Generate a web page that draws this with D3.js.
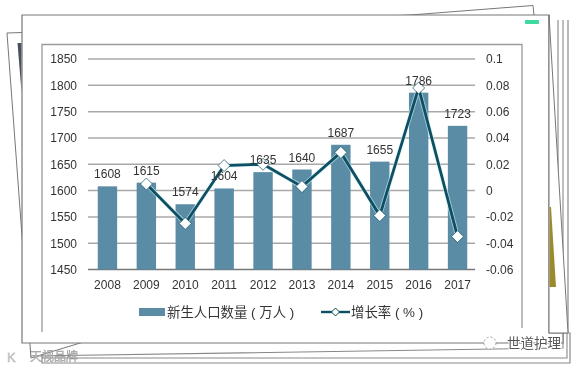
<!DOCTYPE html>
<html><head><meta charset="utf-8">
<script src="https://cdn.jsdelivr.net/npm/d3@7"></script>
<style>html,body{margin:0;padding:0;background:#fff}svg{display:block;filter:blur(.35px)}
text{font-family:"Liberation Sans","Noto Sans CJK SC",sans-serif;fill:#333}</style>
</head><body><div id="c"></div>
<script>
const years=["2008","2009","2010","2011","2012","2013","2014","2015","2016","2017"];
const births=[1608,1615,1574,1604,1635,1640,1687,1655,1786,1723];
const growth=[null,0.005,-0.025,0.019,0.02,0.003,0.029,-0.019,0.078,-0.035];
const leftTicks=[1450,1500,1550,1600,1650,1700,1750,1800,1850];
const rightTicks=[-0.06,-0.04,-0.02,0,0.02,0.04,0.06,0.08,0.1];
const legendNames=["新生人口数量 ( 万人 )","增长率 ( % )"];
const barColor="#5b8ca6",lineColor="#0d4f63",gridColor="#a8a8a8";

const svg=d3.select("#c").append("svg").attr("width",580).attr("height",369);
const line2=d3.line();
function poly(pts,stroke,fill,w,open){svg.append("path").attr("d",line2(pts)+(open?"":"Z")).attr("fill",fill||"none").attr("stroke",stroke||"#777").attr("stroke-width",w||1);}

// paper stack behind the chart
poly([[568,20],[568,333],[570,333],[570,363],[42,363],[42,343]],"#8a8a8a","#fff",1.2,true);
poly([[563,20],[563,333],[567,333],[567,358],[42,358]],"#8a8a8a","none",1.1,true);
poly([[558,20],[558,333],[563,333],[563,348],[31,356],[31,343]],"#888","none",1.1,true);
poly([[7,33],[22,32.5],[410,15],[533,5.5],[534,15],[549,200],[31,358]],"#777","#fff",1);
svg.append("path").attr("d",line2([[17.5,43],[21.5,43],[21.5,92]])+"Z").attr("fill","#4a4f63");
poly([[22,15],[549,15],[549,333],[563,333],[563,343],[22,343]],"#777","#fff",1.2);
// curled sheet on the right
poly([[549,15],[568,333],[549,333]],"#777","#fff",1);
svg.append("path").attr("d",line2([[549.5,207],[551,207],[556,287],[549.5,287]])+"Z").attr("fill","#9a8a2e");
svg.append("rect").attr("x",525).attr("y",20).attr("width",14).attr("height",4).attr("rx",1).attr("fill","#3fd9a0");
poly([[42,332],[42,44.5],[522,44.5],[522,328]],"#9a9a9a","none",1.3,true);

// scales
const x=d3.scaleBand().domain(years).range([88,477]).paddingInner(0.5).paddingOuter(0.25);
const yL=d3.scaleLinear().domain([1450,1850]).range([269.5,59]);
const yR=d3.scaleLinear().domain([-0.06,0.1]).range([269.5,59]);
const cx=d=>x(d)+x.bandwidth()/2;

// grid
svg.append("g").selectAll("line").data(leftTicks.slice(1)).join("line")
 .attr("x1",88).attr("x2",475).attr("y1",yL).attr("y2",yL)
 .attr("stroke",gridColor).attr("stroke-width",1.5);
svg.append("line").attr("x1",88).attr("x2",475).attr("y1",yL(1450)).attr("y2",yL(1450)).attr("stroke","#777").attr("stroke-width",1.4);

// axes
const ax=(g)=>{g.select(".domain").remove();g.selectAll("line").remove();g.selectAll("text").attr("font-size",12).attr("fill","#333");};
svg.append("g").attr("transform","translate(77,0)").call(d3.axisLeft(yL).tickValues(leftTicks).tickFormat(d3.format("d")).tickSize(0).tickPadding(0)).call(ax);
svg.append("g").attr("transform","translate(486,0)").call(d3.axisRight(yR).tickValues(rightTicks).tickFormat(d=>String(d)).tickSize(0).tickPadding(0)).call(ax);
svg.append("g").attr("transform","translate(0,284.5)").call(d3.axisBottom(x).tickSize(0).tickPadding(0)).call(ax).selectAll("text").attr("dy",0).attr("y",4);

// bars
svg.append("g").selectAll("rect").data(years).join("rect")
 .attr("x",d=>cx(d)-9.7).attr("width",19.4)
 .attr("y",(d,i)=>yL(births[i])).attr("height",(d,i)=>yL(1450)-yL(births[i])).attr("fill",barColor);

// line with halo
const gl=d3.line().defined(d=>d[1]!==null).x(d=>cx(d[0])).y(d=>yR(d[1]));
const pts=years.map((y,i)=>[y,growth[i]]);
svg.append("path").attr("d",gl(pts)).attr("fill","none").attr("stroke","#d6f3f7").attr("stroke-width",4.6).attr("opacity",.6);
svg.append("path").attr("d",gl(pts)).attr("fill","none").attr("stroke",lineColor).attr("stroke-width",2.8);
svg.append("g").selectAll("path").data(pts.filter(d=>d[1]!==null)).join("path")
 .attr("transform",d=>`translate(${cx(d[0])},${yR(d[1])})`)
 .attr("d","M0,-6L6,0L0,6L-6,0Z").attr("fill","#fff").attr("stroke",lineColor).attr("stroke-width",.7);

// value labels
svg.append("g").selectAll("text").data(years).join("text")
 .attr("x",d=>cx(d)).attr("y",(d,i)=>yL(births[i])-8).attr("text-anchor","middle").attr("font-size",12)
 .text((d,i)=>births[i]);

// legend
svg.append("rect").attr("x",139).attr("y",308).attr("width",26).attr("height",8).attr("fill",barColor);
svg.append("text").attr("x",167).attr("y",317).attr("font-size",13.4).text(legendNames[0]);
svg.append("line").attr("x1",321).attr("x2",350).attr("y1",312).attr("y2",312).attr("stroke",lineColor).attr("stroke-width",2.4);
svg.append("path").attr("transform","translate(335.5,312)").attr("d","M0,-4L4,0L0,4L-4,0Z").attr("fill","#fff").attr("stroke",lineColor);
svg.append("text").attr("x",351).attr("y",317).attr("font-size",13.4).text(legendNames[1]);

// watermarks
svg.append("circle").attr("cx",490).attr("cy",343).attr("r",6).attr("fill","#fff").attr("stroke","#999").attr("stroke-dasharray","2 2");
svg.append("text").attr("x",507).attr("y",348).attr("font-size",13.5).style("fill","#555").style("stroke","#fff").style("stroke-width","2px").style("paint-order","stroke").text("世道护理");
svg.append("text").attr("x",7).attr("y",362).attr("font-size",13).style("fill","#d4d4d4").style("stroke","#aaa").style("stroke-width",".4px").text("K");
svg.append("text").attr("x",30).attr("y",361).attr("font-size",12).style("fill","#c8c8c8").style("stroke","#888").style("stroke-width",".3px").text("天视品牌");
</script></body></html>
